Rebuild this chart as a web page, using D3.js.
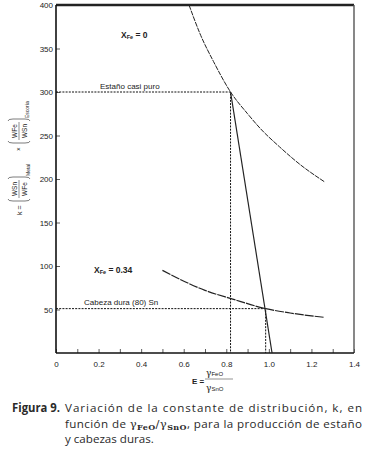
<!DOCTYPE html>
<html>
<head>
<meta charset="utf-8">
<script src="https://cdn.jsdelivr.net/npm/d3@7"></script>
<style>
  body { margin: 0; background: #fff; }
  svg { display: block; }
  .lbl { font-family: 'Liberation Sans', Arial, sans-serif; fill: #222; }
  .cap { font-family: 'Open Sans', sans-serif; font-size: 11.6px; fill: #2a2a2a; }
</style>
</head>
<body>
<svg id="canvas" width="367" height="453"></svg>
<script>
// upper curve, X_Fe = 0
let upperE = [0.625, 0.68, 0.74, 0.82, 0.90, 0.96, 1.05, 1.15, 1.26]
let upperK = [400, 365, 335, 300, 275, 258, 237, 216, 197]
// lower curve, X_Fe = 0.34
let lowerE = [0.50, 0.58, 0.70, 0.83, 0.985, 1.10, 1.26]
let lowerK = [95, 85, 72, 62, 51, 46, 41]
// steep straight line
let lineE = [0.82, 1.015]
let lineK = [300, 0]
// dotted guides: tin nearly pure / hard head
let guideE = [0.82, 0.985]
let guideK = [300, 51]

let xTicks = [0, 0.1, 0.2, 0.3, 0.4, 0.5, 0.6, 0.7, 0.8, 0.9, 1.0, 1.1, 1.2, 1.3, 1.4]
let yTicks = [50, 100, 150, 200, 250, 300, 350, 400]

let canvas = d3.select('#canvas')
let x = d3.scaleLinear().domain([0, 1.4]).range([56, 354])
let y = d3.scaleLinear().domain([0, 400]).range([353, 5])

let fmtX = (d) => {
    let r = Math.round(d * 10)
    if (r % 2 !== 0) return ''
    return d === 0 ? '0' : d.toFixed(1)
}

// axes (ticks point inward)
let xAxis = canvas.append('g')
    .attr('transform', 'translate(0,' + y(0) + ')')
    .call(d3.axisBottom(x).tickValues(xTicks).tickSize(-4).tickPadding(8).tickFormat(fmtX))
let yAxis = canvas.append('g')
    .attr('transform', 'translate(' + x(0) + ',0)')
    .call(d3.axisLeft(y).tickValues(yTicks).tickSize(-4).tickPadding(3))

;[xAxis, yAxis].forEach((g) => {
    g.select('.domain').remove()
    g.selectAll('line').attr('stroke', '#333').attr('stroke-width', 0.8)
    g.selectAll('text').attr('class', 'lbl').style('font-size', '8px').attr('fill', '#333')
})

// frame
canvas.append('line').attr('x1', x(0)).attr('x2', x(1.4)).attr('y1', y(400)).attr('y2', y(400))
    .attr('stroke', '#222').attr('stroke-width', 2.5)
canvas.append('line').attr('x1', x(1.4)).attr('x2', x(1.4)).attr('y1', y(400)).attr('y2', y(0))
    .attr('stroke', '#555').attr('stroke-width', 1.4)
canvas.append('line').attr('x1', x(0)).attr('x2', x(0)).attr('y1', y(400)).attr('y2', y(0))
    .attr('stroke', '#111').attr('stroke-width', 1.6)
canvas.append('line').attr('x1', x(0)).attr('x2', x(1.4)).attr('y1', y(0)).attr('y2', y(0))
    .attr('stroke', '#111').attr('stroke-width', 1.6)

// dotted guides
guideE.forEach((e, i) => {
    let k = guideK[i]
    canvas.append('path')
        .attr('d', 'M' + x(0) + ',' + y(k) + 'H' + x(e) + 'V' + y(0))
        .attr('fill', 'none').attr('stroke', '#111').attr('stroke-width', 1)
        .attr('stroke-dasharray', '2,1.2')
})

let line = d3.line()
    .x((d) => x(d[0]))
    .y((d) => y(d[1]))
    .curve(d3.curveMonotoneX)

canvas.append('path')
    .attr('d', line(upperE.map((e, i) => [e, upperK[i]])))
    .attr('fill', 'none').attr('stroke', '#222').attr('stroke-width', 1)
    .attr('stroke-dasharray', '5,1')
canvas.append('path')
    .attr('d', line(lowerE.map((e, i) => [e, lowerK[i]])))
    .attr('fill', 'none').attr('stroke', '#222').attr('stroke-width', 1.2)
    .attr('stroke-dasharray', '9,1')
canvas.append('path')
    .attr('d', d3.line().x((d) => x(d[0])).y((d) => y(d[1]))(lineE.map((e, i) => [e, lineK[i]])))
    .attr('fill', 'none').attr('stroke', '#222').attr('stroke-width', 1.2)

// annotations
let xfe = (px, py, val) => {
    let t = canvas.append('text').attr('class', 'lbl').attr('x', px).attr('y', py)
        .style('font-size', '8.5px').style('font-weight', 'bold')
    t.append('tspan').text('X')
    t.append('tspan').text('Fe').style('font-size', '5.5px').attr('dy', 1)
    t.append('tspan').text(' =  ' + val).attr('dy', -1)
}
xfe(121, 38, '0')
xfe(94, 273, '0.34')
canvas.append('text').attr('class', 'lbl').attr('x', 100).attr('y', 89)
    .style('font-size', '8px').text('Estaño casi puro')
canvas.append('text').attr('class', 'lbl').attr('x', 84).attr('y', 305)
    .style('font-size', '8px').text('Cabeza dura (80) Sn')

// y axis title (rotated)
let yt = canvas.append('g').attr('transform', 'translate(19,215) rotate(-90)')
let paren = (g, u, open) => {
    let s = open ? 1 : -1
    g.append('path')
        .attr('d', 'M' + (u + 2 * s) + ',-11 Q' + u + ',-11 ' + u + ',-6 V6 Q' + u + ',11 ' + (u + 2 * s) + ',11')
        .attr('fill', 'none').attr('stroke', '#444').attr('stroke-width', 0.7)
}
let frac = (g, u, top, bot) => {
    g.append('text').attr('class', 'lbl').attr('x', u).attr('y', -2.5).attr('text-anchor', 'middle')
        .style('font-size', '6.5px').text(top)
    g.append('line').attr('x1', u - 9).attr('x2', u + 9).attr('y1', 0).attr('y2', 0)
        .attr('stroke', '#444').attr('stroke-width', 0.6)
    g.append('text').attr('class', 'lbl').attr('x', u).attr('y', 7.5).attr('text-anchor', 'middle')
        .style('font-size', '6.5px').text(bot)
}
yt.append('text').attr('class', 'lbl').attr('x', 0).attr('y', 2.5).style('font-size', '7px').text('k =')
paren(yt, 14, true)
frac(yt, 26, 'WSn', 'WFe')
paren(yt, 38, false)
yt.append('text').attr('class', 'lbl').attr('x', 39).attr('y', 11).style('font-size', '5px').text('Metal')
yt.append('text').attr('class', 'lbl').attr('x', 64).attr('y', 2).style('font-size', '6.5px').text('×')
paren(yt, 72, true)
frac(yt, 84, 'WFe', 'WSn')
paren(yt, 96, false)
yt.append('text').attr('class', 'lbl').attr('x', 97).attr('y', 10).style('font-size', '5px').text('Escoria')

// x axis title
canvas.append('text').attr('class', 'lbl').attr('x', 192).attr('y', 384)
    .style('font-size', '8px').style('font-weight', 'bold').text('E =')
let num = canvas.append('text').attr('class', 'lbl').attr('x', 206).attr('y', 376)
num.append('tspan').text('γ').style('font-family', 'DejaVu Serif').style('font-size', '9px')
num.append('tspan').text('FeO').style('font-size', '6px')
canvas.append('line').attr('x1', 205).attr('x2', 233).attr('y1', 379).attr('y2', 379)
    .attr('stroke', '#666').attr('stroke-width', 0.7)
let den = canvas.append('text').attr('class', 'lbl').attr('x', 206).attr('y', 391)
den.append('tspan').text('γ').style('font-family', 'DejaVu Serif').style('font-size', '9px')
den.append('tspan').text('SnO').style('font-size', '6px')

// caption
canvas.append('text').attr('class', 'cap').attr('x', 12).attr('y', 412)
    .attr('textLength', 48).attr('lengthAdjust', 'spacingAndGlyphs')
    .style('font-weight', 'bold').text('Figura 9.')
canvas.append('text').attr('class', 'cap').attr('x', 65).attr('y', 412)
    .attr('textLength', 297).attr('lengthAdjust', 'spacing')
    .text('Variación de la constante de distribución, k, en')
let l2 = canvas.append('text').attr('class', 'cap').attr('x', 65).attr('y', 428)
    .attr('textLength', 297).attr('lengthAdjust', 'spacing')
l2.append('tspan').text('función de ')
l2.append('tspan').text('γ').style('font-family', 'DejaVu Serif')
l2.append('tspan').text('FeO').style('font-family', 'DejaVu Serif').style('font-weight', 'bold')
    .style('font-size', '8px').attr('dy', 2)
l2.append('tspan').text('/γ').style('font-family', 'DejaVu Serif').attr('dy', -2)
l2.append('tspan').text('SnO').style('font-family', 'DejaVu Serif').style('font-weight', 'bold')
    .style('font-size', '8px').attr('dy', 2)
l2.append('tspan').text(', para la producción de estaño').attr('dy', -2)
canvas.append('text').attr('class', 'cap').attr('x', 65).attr('y', 443)
    .text('y cabezas duras.')
</script>
</body>
</html>
